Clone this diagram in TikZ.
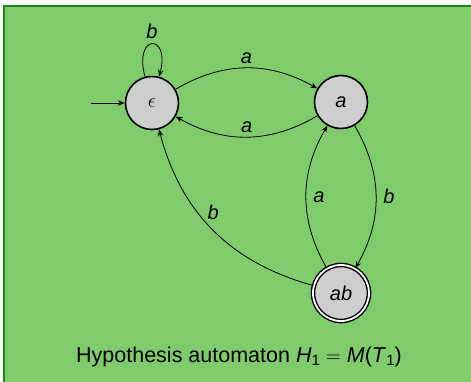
\documentclass[tikz,border=0pt]{standalone}
\usepackage{fontspec}
\setmainfont{Liberation Sans}
\usetikzlibrary{arrows.meta}
\definecolor{bggreen}{RGB}{128,204,108}
\definecolor{bgborder}{RGB}{20,140,20}
\definecolor{stategray}{RGB}{206,206,206}
\newcommand\mysub[1]{\raisebox{-0.3ex}{\fontsize{15}{15}\selectfont #1}}
\begin{document}
\begin{tikzpicture}[x=1pt,y=1pt,
  state/.style={circle, draw=black, line width=1.6pt, fill=stategray, minimum size=53pt, inner sep=0pt, font=\fontsize{20}{24}\selectfont\itshape},
  accepting/.style={double=white, double distance=1.8pt, line width=1.4pt, minimum size=56pt},
  trans/.style={-{Stealth[length=7pt,width=5.5pt,inset=2.5pt]}, line width=0.8pt},
  lbl/.style={font=\fontsize{20}{24}\selectfont\itshape, inner sep=4pt}]
\useasboundingbox (0,-381) rectangle (471,0);
\fill[bggreen] (4,-6) rectangle (475,-385);
\draw[bgborder, line width=1.5pt] (4,-385) -- (4,-6) -- (475,-6);
\node[state] (e) at (152,-103) {$\epsilon$};
\node[state] (a) at (341,-102) {a};
\node[state,accepting] (ab) at (341,-293) {ab};
\coordinate (start) at (91,-103);
\draw[trans] (start) -- (e);
\draw[trans] (e.105) .. controls +(105:45) and +(75:45) .. (e.75) node[lbl, pos=0.5, above, inner sep=5pt] {b};
\draw[trans] (e) to[bend left=30] node[lbl, above] {a} (a);
\draw[trans] (a) to[bend left=30] node[lbl, above] {a} (e);
\draw[trans] (a) to[bend left=30] node[lbl, right, inner sep=7pt] {b} (ab);
\draw[trans] (ab) to[bend left=30] node[lbl, right, inner sep=7pt] {a} (a);
\draw[trans] (ab) to[bend left=30] node[lbl, above, pos=0.5, inner sep=10pt] {b} (e);
\node[font=\fontsize{21.5}{26}\selectfont] (cap) at (239,-357) {Hypothesis automaton \textit{H}\mysub{1} $=$ \textit{M}(\textit{T}\mysub{1})};
\end{tikzpicture}
\end{document}
